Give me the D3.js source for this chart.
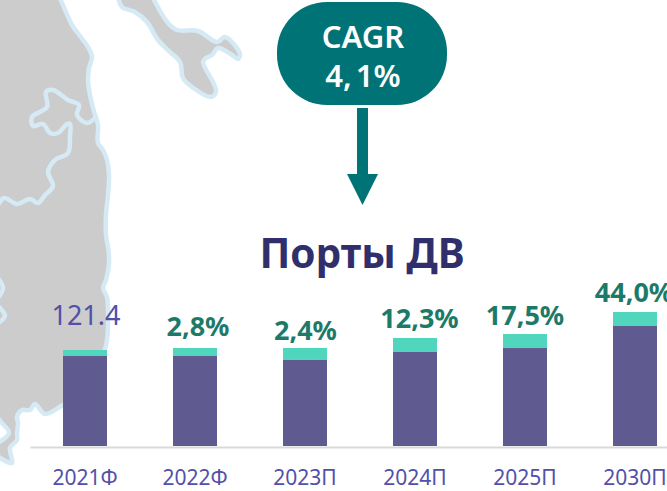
<!DOCTYPE html>
<html>
<head>
<meta charset="utf-8">
<script src="https://cdn.jsdelivr.net/npm/d3@7/dist/d3.min.js"></script>
<style>
html,body{margin:0;padding:0;background:#fff;overflow:hidden}
svg{display:block}
text{font-family:"Noto Sans",sans-serif}
</style>
</head>
<body>
<svg id="chart" width="667" height="491"></svg>
<script>
const categories = ["2021Ф","2022Ф","2023П","2024П","2025П","2030П"];
const baseValues = [113.8,113.8,108.8,118.9,123.9,151.8];
const topValues = [7.6,10.1,15.2,17.7,17.7,17.7];
const valueLabels = ["121.4","2,8%","2,4%","12,3%","17,5%","44,0%"];
const chartTitle = "Порты ДВ";
const cagrLines = ["CAGR","4, 1%"];

// Background map outlines (decorative)
const landOutline = [[59,-4],[66,12],[72,25],[80,36],[88,47],[92,57],[89,68],[88,80],[90,95],[95,115],[98,125],[98,143],[103,150],[107,160],[109,175],[108,195],[106,215],[106,235],[108.5,250],[109,263],[106,280],[103,288],[107,297],[108,313],[107,340],[103,357],[97,383],[63,405],[45,414],[35,404],[30,410],[22,410],[17,417],[18,423],[17,433],[17,440],[10,448],[12,463],[-6,452],[-4,445],[9,433],[-4,414],[-10,300],[-10,-4]];
const borderLine = [[96,117],[87,123],[77,115],[79,105],[68,100],[53,90],[46,92],[47,107],[32,117],[33,126],[43,124],[50,133],[58,133],[67,124],[70,124],[70,136],[68,153],[55,160],[48,172],[53,186],[45,195],[38,203],[30,199],[17,204],[4,198],[-3,207]];
const sideLines = [[[-2,278],[3,288],[-2,298]],[[-2,306],[5,316],[-2,323]]];
const islandOutline = [[118,-4],[122,7],[135,12],[147,22],[158,40],[170,52],[180,62],[183,78],[192,87],[211,97],[216,92],[214,84],[203,62],[206,58],[212,55],[218,48],[232,55],[238,59],[240,54],[225,37],[217,42],[198,31],[177,30],[168,23],[152,-4]];

const svg = d3.select("#chart");
const smooth = d3.line().curve(d3.curveCatmullRom.alpha(0.5));
const mapLayer = svg.append("g").attr("stroke","#d6eaf5").attr("stroke-width",4.5).attr("stroke-linejoin","round").attr("stroke-linecap","round");
mapLayer.append("path").attr("d",smooth(landOutline)+"Z").attr("fill","#cccccc");
mapLayer.append("path").attr("d",smooth(islandOutline)+"Z").attr("fill","#cccccc");
mapLayer.append("path").attr("d",smooth(borderLine)).attr("fill","none");
mapLayer.selectAll(".side").data(sideLines).join("path").attr("class","side").attr("d",d=>smooth(d)).attr("fill","none");

const x = d3.scaleBand().domain(categories).range([30,690]).paddingInner(0.6).paddingOuter(0.3);
const y = d3.scaleLinear().domain([0,121.4]).range([446,350]);

svg.append("g").selectAll("rect").data(categories).join("rect")
  .attr("x",d=>x(d)).attr("width",x.bandwidth())
  .attr("y",(d,i)=>y(baseValues[i])).attr("height",(d,i)=>y(0)-y(baseValues[i]))
  .attr("fill","#5f5a90");
svg.append("g").selectAll("rect").data(categories).join("rect")
  .attr("x",d=>x(d)).attr("width",x.bandwidth())
  .attr("y",(d,i)=>y(baseValues[i]+topValues[i])).attr("height",(d,i)=>y(baseValues[i])-y(baseValues[i]+topValues[i]))
  .attr("fill","#4fd6bc");

const axis = svg.append("g").attr("transform","translate(0,447)")
  .call(d3.axisBottom(x).tickSizeOuter(0).tickSize(0).tickPadding(23));
axis.select(".domain").attr("stroke","#d9d9d9").attr("stroke-width",2);
axis.selectAll("text").attr("fill","#5250a8").style("font-size","21px").style("font-family",'"Noto Sans",sans-serif');

const labelDx = [1,3,0.5,4.5,0,-1];
const labelGap = [25,12,8,10,9,10];
svg.append("g").selectAll("text").data(valueLabels).join("text")
  .attr("x",(d,i)=>x(categories[i])+x.bandwidth()/2+labelDx[i])
  .attr("y",(d,i)=>y(baseValues[i]+topValues[i])-labelGap[i])
  .attr("text-anchor","middle")
  .attr("fill",(d,i)=>i===0?"#5250a8":"#1e7a68")
  .attr("font-weight",(d,i)=>i===0?400:700)
  .attr("font-size","27px")
  .text(d=>d);

svg.append("text").attr("x",362).attr("y",268).attr("text-anchor","middle")
  .attr("fill","#312f6b").attr("font-weight",700).attr("font-size","40.5px").text(chartTitle);

const teal = "#007377";
svg.append("rect").attr("x",277).attr("y",2).attr("width",170).attr("height",103).attr("rx",50).attr("ry",50).attr("fill",teal);
svg.append("path").attr("d","M357,108 H368 V174 H378 L362.5,205 L347,174 H357 Z").attr("fill",teal);
svg.append("g").selectAll("text").data(cagrLines).join("text")
  .attr("x",363).attr("y",(d,i)=>48+i*39).attr("text-anchor","middle")
  .attr("fill","#fff").attr("font-weight",600).attr("font-size","31px")
  .attr("word-spacing","-4px").text(d=>d);
</script>
</body>
</html>
